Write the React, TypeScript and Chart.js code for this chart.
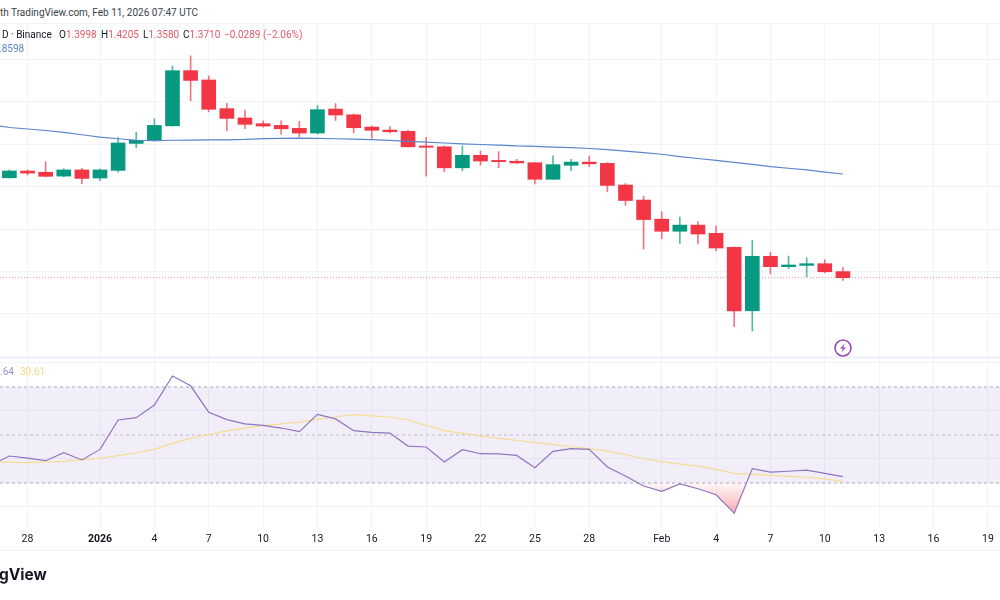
import React, { useEffect, useRef } from "react";
import { Chart, registerables } from "chart.js";

Chart.register(...registerables);

// Day numbers count from 1 Jan 2026 = 0. First candle is 27 Dec 2025 (-5).
const firstCandleDay = -5;
const candleOpen = [1.842,1.874,1.868,1.850,1.879,1.841,1.877,2.004,2.017,2.087,2.347,2.303,2.168,2.124,2.097,2.089,2.075,2.053,2.166,2.139,2.081,2.067,2.061,1.992,1.988,1.889,1.948,1.924,1.920,1.913,1.835,1.901,1.916,1.910,1.808,1.737,1.647,1.590,1.619,1.580,1.514,1.215,1.472,1.423,1.429,1.437,1.3998];
const candleHigh = [1.879,1.879,1.918,1.885,1.887,1.883,2.031,2.056,2.120,2.369,2.417,2.322,2.193,2.161,2.111,2.111,2.108,2.184,2.192,2.143,2.087,2.083,2.067,2.031,1.992,1.992,1.968,1.965,1.929,1.915,1.946,1.929,1.945,1.913,1.815,1.755,1.682,1.657,1.635,1.615,1.516,1.547,1.491,1.473,1.465,1.456,1.4205];
const candleLow = [1.841,1.855,1.847,1.847,1.814,1.828,1.869,1.984,2.015,2.086,2.205,2.153,2.064,2.073,2.081,2.047,2.036,2.048,2.112,2.054,2.028,2.054,1.987,1.850,1.871,1.875,1.902,1.889,1.910,1.813,1.834,1.875,1.894,1.776,1.712,1.506,1.555,1.533,1.530,1.497,1.140,1.120,1.388,1.413,1.376,1.394,1.358];
const candleClose = [1.874,1.864,1.849,1.879,1.839,1.879,2.006,2.019,2.089,2.347,2.301,2.165,2.122,2.094,2.086,2.073,2.053,2.163,2.138,2.078,2.066,2.059,1.988,1.986,1.889,1.948,1.921,1.918,1.912,1.835,1.904,1.916,1.908,1.806,1.735,1.645,1.590,1.619,1.577,1.511,1.215,1.472,1.423,1.431,1.437,1.399,1.371];

// Moving average and RSI series start one day earlier: 26 Dec 2025 (-6).
const firstLineDay = -6;
const movingAverage = [2.091,2.079,2.072,2.065,2.056,2.045,2.034,2.026,2.019,2.017,2.019,2.020,2.021,2.021,2.023,2.027,2.028,2.029,2.028,2.026,2.024,2.022,2.018,2.014,2.010,2.006,2.002,1.999,1.996,1.992,1.990,1.987,1.984,1.980,1.975,1.968,1.961,1.953,1.942,1.933,1.924,1.915,1.905,1.895,1.887,1.879,1.869,1.8598];
const rsiValues = [37.5,41.25,40.4,39.3,42.6,39.6,44.0,56.25,57.2,62.5,74.6,70.5,59.5,56.4,54.6,54.0,52.9,51.4,58.6,56.7,51.8,51.1,50.8,45.4,45.0,38.75,43.9,42.2,42.1,41.5,36.4,43.2,44.3,44.0,36.7,32.9,28.75,26.5,29.6,27.6,25.1,17.4,36.0,34.5,34.9,35.4,34.0,32.64];
const rsiAverage = [38.75,38.6,38.5,38.75,39.0,39.7,40.4,41.4,42.5,44.0,46.5,48.6,50.1,51.7,52.9,53.9,54.6,55.4,56.5,57.6,58.5,58.0,57.5,56.25,54.0,51.8,50.7,49.6,48.6,47.8,46.8,46.1,45.1,44.3,43.3,41.8,40.1,38.9,37.9,37.1,35.7,34.0,33.6,33.2,32.8,32.4,31.7,30.61];

const tickDays = [-4,0,3,6,9,12,15,18,21,24,27,31,34,37,40,43,46,49];
const tickLabels = ["28","2026","4","7","10","13","16","19","22","25","28","Feb","4","7","10","13","16","19"];

const lastClose = 1.371;
const bandUpper = 70;
const bandMiddle = 50;
const bandLower = 30;

const dayMin = -5.519;
const dayMax = 49.669;
const priceMin = 0.9925;
const priceMax = 2.5717;
const rsiMin = 11.25;
const rsiMax = 82.08;

const UP = "#089981";
const DOWN = "#F23645";
const GRID = "#F0F3FA";
const FONT = "Roboto, sans-serif";

const days = (start: number, n: number) => Array.from({ length: n }, (_, i) => start + i);

const xScale = (showLabels: boolean) => ({
  type: "linear" as const,
  min: dayMin,
  max: dayMax,
  offset: false,
  afterBuildTicks: (s: any) => {
    s.ticks = tickDays.map((value) => ({ value }));
  },
  afterFit: (s: any) => {
    s.height = showLabels ? 22 : 0;
  },
  grid: { color: GRID, drawTicks: false, offset: false },
  border: { display: false },
  ticks: {
    display: showLabels,
    autoSkip: false,
    maxRotation: 0,
    padding: 5,
    color: "#131722",
    font: (ctx: any) => ({
      family: FONT,
      size: 10.5,
      weight: tickLabels[ctx.index] === "2026" ? 700 : 400,
    }),
    callback: (_v: any, i: number) => tickLabels[i],
  },
});

const yBase = (min: number, max: number, stepSize: number) => ({
  type: "linear" as const,
  min,
  max,
  afterFit: (s: any) => {
    s.width = 0;
  },
  grid: { color: GRID, drawTicks: false },
  border: { display: false },
  ticks: { display: false, stepSize, includeBounds: false },
});

const commonOptions = {
  animation: false as const,
  responsive: false,
  maintainAspectRatio: false,
  events: [] as any[],
  layout: { autoPadding: false, padding: 0 },
  plugins: { legend: { display: false }, title: { display: false }, tooltip: { enabled: false } },
};

const textStyle = (left: number, top: number, extra: React.CSSProperties = {}): React.CSSProperties => ({
  position: "absolute",
  left,
  top,
  whiteSpace: "nowrap",
  fontFamily: FONT,
  fontSize: 10,
  lineHeight: "16px",
  color: "#131722",
  ...extra,
});

export default function App() {
  const priceRef = useRef<HTMLCanvasElement>(null);
  const rsiRef = useRef<HTMLCanvasElement>(null);

  useEffect(() => {
    document.body.style.margin = "0";
    document.body.style.overflow = "hidden";
    document.body.style.background = "#fff";

    const candleDays = days(firstCandleDay, candleOpen.length);
    const lineDays = days(firstLineDay, rsiValues.length);
    const colors = candleOpen.map((o, i) => (candleClose[i] >= o ? UP : DOWN));

    const price = new Chart(priceRef.current!, {
      type: "bar",
      data: {
        datasets: [
          {
            type: "line",
            data: [{ x: dayMin, y: lastClose }, { x: dayMax, y: lastClose }],
            borderColor: "rgba(242,54,69,0.55)",
            borderWidth: 1,
            borderDash: [1, 2],
            pointRadius: 0,
            order: 5,
          },
          {
            type: "bar",
            data: candleDays.map((x, i) => ({ x, y: [candleLow[i], candleHigh[i]] })),
            backgroundColor: colors.map((c) => c + "B0"),
            barThickness: 1,
            grouped: false,
            order: 4,
          },
          {
            type: "bar",
            data: candleDays.map((x, i) => ({ x, y: [candleOpen[i], candleClose[i]] })),
            backgroundColor: colors,
            barThickness: 14,
            grouped: false,
            order: 3,
          },
          {
            type: "line",
            data: lineDays.map((x, i) => ({ x, y: movingAverage[i] })),
            borderColor: "#5B85CC",
            borderWidth: 1.2,
            pointRadius: 0,
            tension: 0,
            order: 1,
          },
        ] as any,
      },
      options: {
        ...commonOptions,
        scales: { x: xScale(false), y: yBase(priceMin, priceMax, 0.2) },
      } as any,
    });

    const rsi = new Chart(rsiRef.current!, {
      type: "line",
      data: {
        datasets: [
          {
            data: [{ x: dayMin, y: bandUpper }, { x: dayMax, y: bandUpper }],
            borderColor: "#A9A6B5",
            borderWidth: 1,
            borderDash: [3, 3],
            pointRadius: 0,
            fill: { value: bandLower, below: "rgba(126,87,194,0.1)", above: "rgba(126,87,194,0.1)" },
            order: 5,
          },
          {
            data: [{ x: dayMin, y: bandMiddle }, { x: dayMax, y: bandMiddle }],
            borderColor: "#BDBAC8",
            borderWidth: 1,
            borderDash: [3, 3],
            pointRadius: 0,
            order: 4,
          },
          {
            data: [{ x: dayMin, y: bandLower }, { x: dayMax, y: bandLower }],
            borderColor: "#A9A6B5",
            borderWidth: 1,
            borderDash: [3, 3],
            pointRadius: 0,
            order: 4,
          },
          {
            data: lineDays.map((x, i) => ({ x, y: rsiValues[i] })),
            borderColor: "#8E76BE",
            borderWidth: 1.2,
            pointRadius: 0,
            tension: 0,
            fill: { value: bandLower, above: "rgba(0,0,0,0)", below: "rgba(242,54,69,0.25)" },
            order: 1,
          },
          {
            data: lineDays.map((x, i) => ({ x, y: rsiAverage[i] })),
            borderColor: "#F6DC92",
            borderWidth: 1.2,
            pointRadius: 0,
            tension: 0,
            order: 2,
          },
        ] as any,
      },
      options: {
        ...commonOptions,
        scales: { x: xScale(true), y: yBase(rsiMin, rsiMax, 20) },
      } as any,
    });

    // Pink fade below the oversold line: strongest at the bottom of the dip.
    const y30 = rsi.scales.y.getPixelForValue(bandLower);
    const y17 = rsi.scales.y.getPixelForValue(17);
    const g = rsi.ctx.createLinearGradient(0, y30, 0, y17);
    g.addColorStop(0, "rgba(242,54,69,0.03)");
    g.addColorStop(1, "rgba(242,54,69,0.42)");
    (rsi.data.datasets[3] as any).fill.below = g;
    rsi.update();

    return () => {
      price.destroy();
      rsi.destroy();
    };
  }, []);

  const red = { color: "#E25A68" };
  const ohlc: [number, string, string][] = [
    [59, "O", "1.3998"],
    [101, "H", "1.4205"],
    [143, "L", "1.3580"],
    [183, "C", "1.3710"],
  ];
  return (
    <div style={{ position: "fixed", left: 0, top: 0, width: 1000, height: 600, overflow: "hidden", background: "#fff" }}>
      <div style={{ position: "absolute", left: 0, top: 23, width: 1000, height: 1, background: GRID }} />
      <canvas ref={priceRef} width={1000} height={335} style={{ position: "absolute", left: 0, top: 23, width: 1000, height: 335 }} />
      <div style={{ position: "absolute", left: 0, top: 357, width: 1000, height: 2, background: GRID }} />
      <canvas ref={rsiRef} width={1000} height={192} style={{ position: "absolute", left: 0, top: 358, width: 1000, height: 192 }} />
      <div style={{ position: "absolute", left: 0, top: 550, width: 1000, height: 1, background: GRID }} />

      <div style={textStyle(0, 5, { color: "#3b3f4a" })}>th TradingView.com, Feb 11, 2026 07:47 UTC</div>
      <div style={textStyle(2, 27)}>D · Binance</div>
      {ohlc.map(([x, k, v]) => (
        <div key={k} style={textStyle(x, 27)}>
          {k}
          <span style={red}>{v}</span>
        </div>
      ))}
      <div style={textStyle(224, 27, red)}>−0.0289 (−2.06%)</div>
      <div style={textStyle(-1, 41, { color: "#5B85CC" })}>.8598</div>
      <div style={textStyle(0, 364, { color: "#A08FCB" })}>.64</div>
      <div style={textStyle(20, 364, { color: "#F3D77F" })}>30.61</div>
      <div style={textStyle(-1, 565, { fontSize: 15.5, lineHeight: "20px", fontWeight: 700, fontFamily: "Inter, sans-serif", color: "#131722" })}>gView</div>
      <svg width={20} height={20} viewBox="0 0 20 20" style={{ position: "absolute", left: 833, top: 338 }}>
        <circle cx={10} cy={10} r={8} fill="none" stroke="#9C4DB5" strokeWidth={1.6} />
        <path d="M11.5 5.5 L7 10.6 H9.8 L8.5 14.5 L13 9.4 H10.2 Z" fill="#9C4DB5" />
      </svg>
    </div>
  );
}
